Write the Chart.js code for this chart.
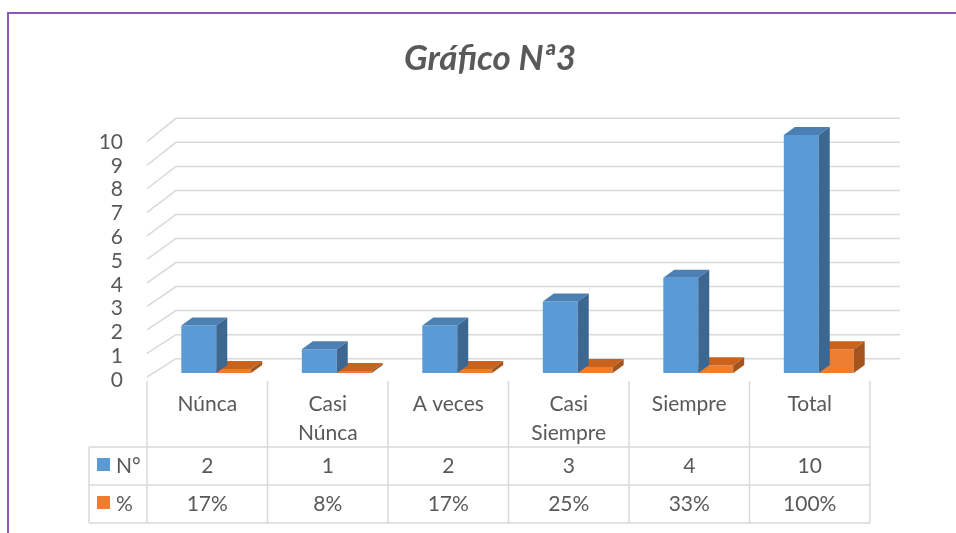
<!DOCTYPE html>
<html>
<head>
<meta charset="utf-8">
<script src="https://cdn.jsdelivr.net/npm/chart.js@4"></script>
<style>
body{margin:0;background:#fff;}
#wrap{width:956px;height:533px;position:relative;}
</style>
</head>
<body>
<div id="wrap"><canvas id="chart"></canvas></div>
<script>

// ------------------------------
// Data
// ------------------------------

const chartTitle = "Gráfico Nª3";
const categories = ["Núnca", ["Casi", "Núnca"], "A veces", ["Casi", "Siempre"], "Siempre", "Total"];
const countValues = [2, 1, 2, 3, 4, 10];
const percentValues = [0.17, 0.08, 0.17, 0.25, 0.33, 1.00];
const seriesNames = ["N°", "%"];
const yTickValues = [0, 1, 2, 3, 4, 5, 6, 7, 8, 9, 10];

// ------------------------------
// Styles
// ------------------------------

const FONT = "Lato";
const TEXT = "#595959";
const GRID = "#d9d9d9";
const DX = 11, DY = -8;       // bar depth
const SHIFT = 9;              // bars sit back from the floor edge
const faces = [
    {front:"#5b9bd5", top:"#4c80b4", side:"#3b6791"},
    {front:"#ed7d31", top:"#c9621d", side:"#a4541c"}
];

function pct(v){
    return Math.round(v * 100) + "%";
}

// ------------------------------
// Plugin: frame, title, 3D wall, bar faces, data table
// ------------------------------

const threeD = {

    id:"threeD",

    beforeDraw(chart){
        const ctx = chart.ctx;
        ctx.save();
        ctx.strokeStyle = "#8b58b5";
        ctx.lineWidth = 2;
        ctx.strokeRect(8, 13, 1000, 600);

        ctx.fillStyle = TEXT;
        ctx.font = "italic bold 35px " + FONT;
        ctx.textAlign = "center";
        ctx.textBaseline = "alphabetic";
        ctx.fillText(chartTitle, 490, 70);
        ctx.restore();
    },

    beforeDatasetsDraw(chart){
        const ctx = chart.ctx;
        const y = chart.scales.y;
        const area = chart.chartArea;
        ctx.save();
        ctx.strokeStyle = GRID;
        ctx.lineWidth = 1.5;
        yTickValues.forEach(function(v){
            const p = y.getPixelForValue(v);
            const front = p + 4 + v * 0.27;
            const back = p - 14.3 - v * 0.24;
            ctx.beginPath();
            ctx.moveTo(area.left, front);
            ctx.lineTo(area.left + 29, back);
            ctx.lineTo(area.right + 30, back);
            ctx.stroke();
        });
        ctx.restore();
        ctx.save();
        ctx.translate(SHIFT, 0);
    },

    afterDatasetDraw(chart, args){
        const ctx = chart.ctx;
        const c = faces[args.index];
        args.meta.data.forEach(function(bar){
            const p = bar.getProps(["x", "y", "base", "width"], true);
            const x0 = p.x - p.width / 2;
            const x1 = p.x + p.width / 2;
            ctx.fillStyle = c.top;
            ctx.beginPath();
            ctx.moveTo(x0, p.y);
            ctx.lineTo(x0 + DX, p.y + DY);
            ctx.lineTo(x1 + DX, p.y + DY);
            ctx.lineTo(x1, p.y);
            ctx.closePath();
            ctx.fill();
            ctx.fillStyle = c.side;
            ctx.beginPath();
            ctx.moveTo(x1, p.y);
            ctx.lineTo(x1 + DX, p.y + DY);
            ctx.lineTo(x1 + DX, p.base + DY);
            ctx.lineTo(x1, p.base);
            ctx.closePath();
            ctx.fill();
        });
    },

    afterDatasetsDraw(chart){
        chart.ctx.restore();
    },

    afterDraw(chart){
        const ctx = chart.ctx;
        const xs = chart.scales.x;
        const area = chart.chartArea;
        const colW = (area.right - area.left) / categories.length;
        const headTop = 381, rowTop = 447, rowMid = 485, rowBot = 523, leftX = 89;

        ctx.save();
        ctx.strokeStyle = GRID;
        ctx.lineWidth = 1.5;

        // vertical lines
        for(let i = 0; i <= categories.length; i++){
            const x = area.left + i * colW;
            ctx.beginPath();
            ctx.moveTo(x, headTop);
            ctx.lineTo(x, rowBot);
            ctx.stroke();
        }
        ctx.beginPath();
        ctx.moveTo(leftX, rowTop);
        ctx.lineTo(leftX, rowBot);
        ctx.stroke();

        // horizontal lines
        [rowTop, rowMid, rowBot].forEach(function(yy){
            ctx.beginPath();
            ctx.moveTo(leftX, yy);
            ctx.lineTo(area.right, yy);
            ctx.stroke();
        });

        ctx.fillStyle = TEXT;
        ctx.font = "21px " + FONT;
        ctx.textAlign = "center";
        ctx.textBaseline = "middle";

        categories.forEach(function(cat, i){
            const cx = xs.getPixelForValue(i);
            const lines = Array.isArray(cat) ? cat : [cat];
            lines.forEach(function(t, j){
                ctx.fillText(t, cx, 404 + j * 29);
            });
            ctx.fillText(String(countValues[i]), cx, 466);
            ctx.fillText(pct(percentValues[i]), cx, 504);
        });

        // legend keys
        const keyY = [rowTop, rowMid];
        seriesNames.forEach(function(name, i){
            ctx.fillStyle = faces[i].front;
            ctx.fillRect(97, keyY[i] + 11, 13, 13);
            ctx.fillStyle = TEXT;
            ctx.textAlign = "left";
            ctx.fillText(name, 116, keyY[i] + 19);
        });

        ctx.restore();
    }

};

// ------------------------------
// Chart
// ------------------------------

const ctx = document.getElementById("chart");

new Chart(ctx,{

    type:"bar",

    data:{
        labels:categories,
        datasets:[
            {
                label:seriesNames[0],
                data:countValues,
                backgroundColor:faces[0].front,
                clip:false
            },
            {
                label:seriesNames[1],
                data:percentValues,
                backgroundColor:faces[1].front,
                clip:false
            }
        ]
    },

    options:{
        responsive:true,
        maintainAspectRatio:false,
        animation:false,
        categoryPercentage:0.58,
        barPercentage:1,
        layout:{
            padding:{left:0, right:86, top:135, bottom:160}
        },
        plugins:{
            legend:{display:false},
            tooltip:{enabled:false},
            title:{display:false}
        },
        scales:{
            x:{
                display:false
            },
            y:{
                min:0,
                max:10,
                afterBuildTicks:function(scale){
                    scale.ticks = yTickValues.map(function(v){ return {value:v}; });
                },
                afterFit:function(scale){
                    scale.width = 147;
                },
                grid:{display:false, drawTicks:false},
                border:{display:false},
                ticks:{
                    autoSkip:false,
                    color:TEXT,
                    padding:24,
                    labelOffset:7,
                    font:{family:FONT, size:21}
                }
            }
        }
    },

    plugins:[threeD]

});

</script>
</body>
</html>
